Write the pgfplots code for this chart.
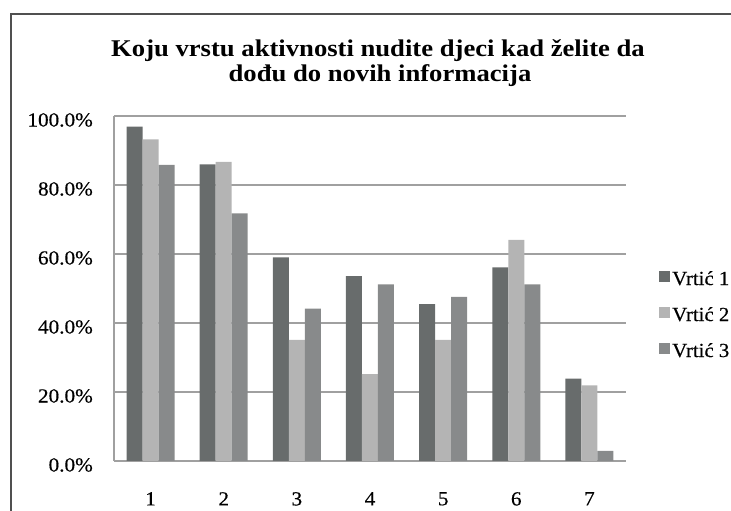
\documentclass[border=0pt]{standalone}
\usepackage{fontspec}
\setmainfont{Liberation Serif}[FakeStretch=1.06, FakeBold=0.4]
\newfontfamily\titlefont{Liberation Serif}[FakeStretch=1.11]
\newfontfamily\legfont{Liberation Serif}[FakeStretch=1.04, FakeBold=0.4]
\usepackage{pgfplots}
\pgfplotsset{compat=1.18}
\definecolor{barA}{RGB}{104,108,108}
\definecolor{barB}{RGB}{180,180,180}
\definecolor{barC}{RGB}{136,138,139}
\definecolor{gridc}{RGB}{160,160,160}
\definecolor{framec}{RGB}{80,80,80}
\begin{document}
\begin{tikzpicture}[x=1pt,y=1pt]
\useasboundingbox (0,0) rectangle (731,511);
\clip (0,0) rectangle (731,511);
\draw[framec, line width=1.5pt] (10.5,497) -- (731,497);
\draw[framec, line width=1.5pt] (11,497.5) -- (11,0);
\node[font=\titlefont\fontsize{24}{28}\selectfont\bfseries, anchor=base] at (378,454) {Koju vrstu aktivnosti nudite djeci kad želite da};
\node[font=\titlefont\fontsize{24}{28}\selectfont\bfseries, anchor=base] at (380,429) {dođu do novih informacija};
\begin{axis}[
  at={(114pt,50pt)}, anchor=south west,
  scale only axis, width=512pt, height=345pt,
  ybar=0pt, bar width=16pt,
  xmin=0.5, xmax=7.5, ymin=0, ymax=100,
  xtick={1,2,3,4,5,6,7}, xticklabels={1,2,3,4,5,6,7},
  ytick={0,20,40,60,80,100},
  yticklabels={0.0\%,20.0\%,40.0\%,60.0\%,80.0\%,100.0\%},
  major tick length=0pt,
  axis x line*=bottom, axis y line*=left,
  axis line style={gridc, line width=1.2pt, -},
  ymajorgrids, grid style={gridc, line width=1.2pt},
  tick label style={font=\fontsize{20}{24}\selectfont},
  yticklabel style={anchor=east, inner sep=0pt, xshift=-21pt, yshift=-4pt},
  xticklabel style={anchor=north, inner sep=0pt, yshift=-31pt},
  legend image code/.code={\fill[#1] (0pt,-3.5pt) rectangle (11pt,7.5pt);},
  legend style={at={(1.0645,0.426)}, anchor=west, draw=none, fill=none, inner sep=0pt,
    font=\legfont\fontsize{20}{24}\selectfont, row sep=22pt,
    nodes={inner sep=0pt, text height=13pt, text depth=0pt}},
  legend cell align=left,
  legend style={/tikz/every odd column/.append style={column sep=2pt}},
]
\addplot[draw=none, fill=barA] coordinates {(1,96.9) (2,86.0) (3,59.0) (4,53.6) (5,45.5) (6,56.1) (7,23.9)};
\addplot[draw=none, fill=barB] coordinates {(1,93.2) (2,86.7) (3,35.1) (4,25.2) (5,35.1) (6,64.1) (7,21.9)};
\addplot[draw=none, fill=barC] coordinates {(1,85.8) (2,71.8) (3,44.2) (4,51.2) (5,47.6) (6,51.2) (7,2.9)};
\legend{Vrtić 1,Vrtić 2,Vrtić 3}
\end{axis}
\end{tikzpicture}
\end{document}
